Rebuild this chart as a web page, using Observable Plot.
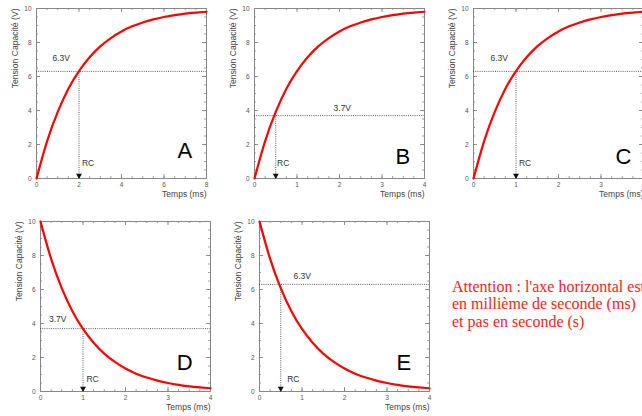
<!DOCTYPE html>
<html><head><meta charset="utf-8">
<script src="https://cdn.jsdelivr.net/npm/d3@7"></script>
<script src="https://cdn.jsdelivr.net/npm/@observablehq/plot@0.6"></script>
<style>
html,body{margin:0;padding:0;background:#fff;}
#wrap{position:relative;width:642px;height:416px;overflow:hidden;background:#fff;}
.panel{position:absolute;}
#note{position:absolute;left:452px;top:278px;font-family:"Liberation Serif","Times New Roman",serif;font-size:16px;line-height:17.3px;color:#ff1a1a;white-space:nowrap;}
</style></head><body>
<div id="wrap"><div id="note">Attention : l'axe horizontal est<br>en millième de seconde (ms)<br>et pas en seconde (s)</div></div>
<script>
// ---- data ----
const panelNames = ["A", "B", "C", "D", "E"];
const timesA = [0, 0.5, 1, 1.5, 2, 2.5, 3, 3.5, 4, 4.5, 5, 5.5, 6, 6.5, 7, 7.5, 8];
const times4 = [0, 0.25, 0.5, 0.75, 1, 1.25, 1.5, 1.75, 2, 2.25, 2.5, 2.75, 3, 3.25, 3.5, 3.75, 4];
const voltsA = [0, 2.2, 3.92, 5.28, 6.32, 7.13, 7.77, 8.26, 8.65, 8.95, 9.18, 9.36, 9.5, 9.61, 9.7, 9.76, 9.81];
const voltsB = [0, 2.2, 3.92, 5.28, 6.32, 7.13, 7.77, 8.26, 8.65, 8.95, 9.18, 9.36, 9.5, 9.61, 9.7, 9.76, 9.81];
const voltsC = [0, 2.2, 3.92, 5.28, 6.32, 7.13, 7.77, 8.26, 8.65, 8.95, 9.18, 9.36, 9.5, 9.61, 9.7, 9.76, 9.81];
const voltsD = [10, 7.8, 6.08, 4.72, 3.68, 2.87, 2.23, 1.74, 1.35, 1.05, 0.82, 0.64, 0.5, 0.39, 0.3, 0.24, 0.19];
const voltsE = [10, 7.8, 6.08, 4.72, 3.68, 2.87, 2.23, 1.74, 1.35, 1.05, 0.82, 0.64, 0.5, 0.39, 0.3, 0.24, 0.19];
const markerLevels = [6.3, 3.7, 6.3, 3.7, 6.3];
const markerTimes = [2, 0.5, 1, 1, 0.5];
const levelLabels = ["6.3V", "3.7V", "6.3V", "3.7V", "6.3V"];
const rcLabel = "RC";
const xMaxes = [8, 4, 4, 4, 4];
const xTicksA = [0, 2, 4, 6, 8];
const xTicks4 = [0, 1, 2, 3, 4];
const yTicks = [0, 2, 4, 6, 8, 10];
const xLabel = "Temps (ms)";
const yLabel = "Tension Capacité (V)";

// ---- layout (not data) ----
const frameLeft = [35.7, 254.3, 472.7, 40, 259];
const frameTop = [8.3, 8.3, 8.3, 220.7, 220.7];
const levelLabelPos = [[0.75, 7.1], [1.86, 4.15], [0.4, 7.1], [0.2, 4.25], [0.8, 6.76]];
const rcLabelPos = [[2.14, 0.9], [0.53, 0.9], [1.07, 0.9], [1.08, 0.73], [0.65, 0.73]];
const letterOffset = [[148.3, 142.3], [148.4, 148.4], [150, 148.4], [144.3, 141], [144.3, 141]];

const allTimes = [timesA, times4, times4, times4, times4];
const allVolts = [voltsA, voltsB, voltsC, voltsD, voltsE];
const FW = 170, FH = 170;
const ML = 36, MT = 8, MR = 12, MB = 30;
const font = "Liberation Sans, Arial, sans-serif";
const wrap = document.getElementById("wrap");

panelNames.forEach((name, i) => {
  const xmax = xMaxes[i];
  const xt = i === 0 ? xTicksA : xTicks4;
  const xMinorStep = xmax / 16;
  const xMinor = d3.range(0, 17).map(k => k * xMinorStep);
  const yMinor = d3.range(0, 21).map(k => k * 0.5);
  const pts = allTimes[i].map((t, k) => ({t, v: allVolts[i][k]}));
  const lvl = markerLevels[i], rc = markerTimes[i];
  const ink = "#333";
  const svg = Plot.plot({
    width: ML + FW + MR, height: MT + FH + MB,
    marginLeft: ML, marginTop: MT, marginRight: MR, marginBottom: MB,
    x: {domain: [0, xmax], axis: null},
    y: {domain: [0, 10], axis: null},
    style: {background: "transparent", overflow: "visible", fontFamily: font},
    marks: [
      // minor ticks (inside, all four sides)
      Plot.tickX(xMinor, {x: d => d, insetTop: FH - 2, stroke: "#888", strokeWidth: 0.8}),
      Plot.tickX(xMinor, {x: d => d, insetBottom: FH - 2, stroke: "#888", strokeWidth: 0.8}),
      Plot.tickY(yMinor, {y: d => d, insetRight: FW - 2, stroke: "#888", strokeWidth: 0.8}),
      Plot.tickY(yMinor, {y: d => d, insetLeft: FW - 2, stroke: "#888", strokeWidth: 0.8}),
      // major ticks
      Plot.tickX(xt, {x: d => d, insetTop: FH - 4, stroke: "#777", strokeWidth: 0.8}),
      Plot.tickX(xt, {x: d => d, insetBottom: FH - 4, stroke: "#777", strokeWidth: 0.8}),
      Plot.tickY(yTicks, {y: d => d, insetRight: FW - 4, stroke: "#777", strokeWidth: 0.8}),
      Plot.tickY(yTicks, {y: d => d, insetLeft: FW - 4, stroke: "#777", strokeWidth: 0.8}),
      Plot.frame({stroke: "#888", strokeWidth: 1}),
      Plot.axisX({ticks: xt, tickSize: 0, tickPadding: 4, fontSize: 6.5, fill: "#555", label: null, tickFormat: d => String(d)}),
      Plot.axisY({ticks: yTicks, tickSize: 0, tickPadding: 5, fontSize: 6.5, fill: "#555", label: null, tickFormat: d => String(d)}),
      // annotations
      Plot.ruleY([lvl], {x1: 0, x2: xmax, stroke: ink, strokeWidth: 0.8, strokeDasharray: "1,1.2"}),
      Plot.ruleX([rc], {y1: 0.2, y2: lvl, stroke: ink, strokeWidth: 0.8, strokeDasharray: "1,1.2"}),
      Plot.dot([rc], {x: d => d, y: 0, symbol: "triangle", r: 2.2, rotate: 180, fill: "#111", stroke: null, dy: -3}),
      // curve
      Plot.line(pts, {x: "t", y: "v", stroke: "#ff0000", strokeWidth: 2.2, curve: "natural"}),
      Plot.text([levelLabels[i]], {x: levelLabelPos[i][0], y: levelLabelPos[i][1], text: d => d, textAnchor: "start", fontSize: 8.5, fill: ink}),
      Plot.text([rcLabel], {x: rcLabelPos[i][0], y: rcLabelPos[i][1], text: d => d, textAnchor: "start", fontSize: 8.5, fill: ink}),
      Plot.text([name], {frameAnchor: "top-left", dx: letterOffset[i][0], dy: letterOffset[i][1], text: d => d, textAnchor: "middle", lineAnchor: "middle", fontSize: 22, fill: "#000"}),
      Plot.text([xLabel], {frameAnchor: "bottom-right", dy: 16, text: d => d, textAnchor: "end", lineAnchor: "middle", fontSize: 8.5, fill: "#444"}),
      Plot.text([yLabel], {frameAnchor: "top-left", dx: -21, text: d => d, rotate: -90, textAnchor: "end", lineAnchor: "middle", fontSize: 8.6, fill: "#444"})
    ]
  });
  svg.classList.add("panel");
  svg.style.left = (frameLeft[i] - ML) + "px";
  svg.style.top = (frameTop[i] - MT) + "px";
  wrap.appendChild(svg);
});
</script>
</body></html>
